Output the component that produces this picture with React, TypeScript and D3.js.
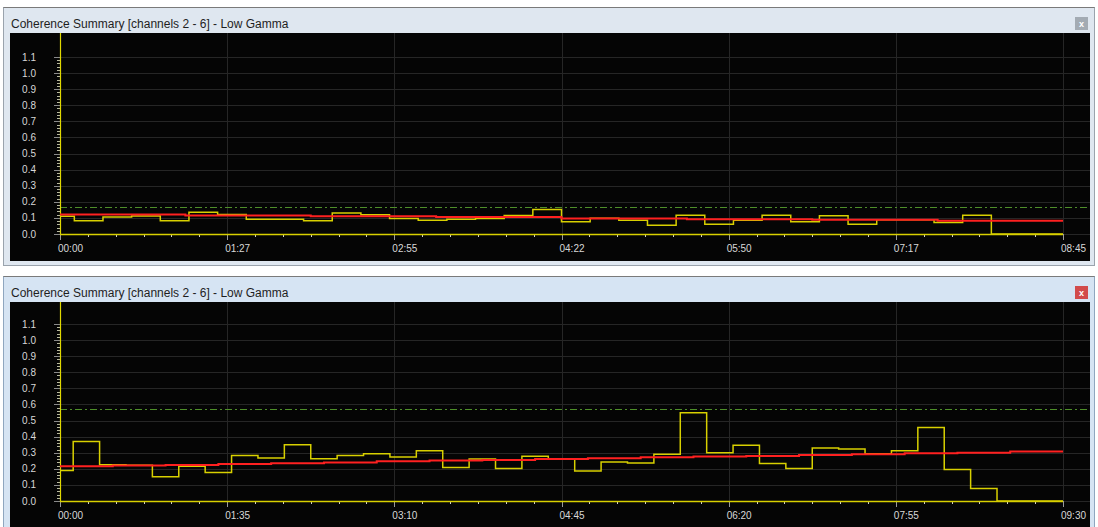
import React from "react";
import * as d3 from "d3";

// ---------- data ----------
const titleText = "Coherence Summary [channels 2 - 6] - Low Gamma";

const topDurationSec = 525;
const topTickLabels = ["00:00", "01:27", "02:55", "04:22", "05:50", "07:17", "08:45"];
const topYellow = [
  0.111, 0.082, 0.105, 0.112, 0.082, 0.135, 0.121, 0.092, 0.092, 0.082, 0.131, 0.119,
  0.096, 0.086, 0.092, 0.096, 0.115, 0.152, 0.076, 0.098, 0.086, 0.055, 0.117, 0.061,
  0.086, 0.117, 0.076, 0.113, 0.061, 0.088, 0.088, 0.072, 0.117, 0, 0, 0,
];
const topRed = [0.121, 0.115, 0.11, 0.105, 0.097, 0.092, 0.088, 0.083];
const topThreshold = 0.166;

const bottomDurationSec = 570;
const bottomTickLabels = ["00:00", "01:35", "03:10", "04:45", "06:20", "07:55", "09:30"];
const bottomYellow = [
  0.19, 0.37, 0.226, 0.222, 0.15, 0.216, 0.177, 0.282, 0.267, 0.35, 0.263, 0.282, 0.294,
  0.273, 0.313, 0.208, 0.261, 0.202, 0.278, 0.262, 0.187, 0.243, 0.236, 0.29, 0.548, 0.3,
  0.346, 0.233, 0.202, 0.33, 0.323, 0.294, 0.313, 0.457, 0.196, 0.078, 0, 0, 0,
];
const bottomRed = [
  0.216, 0.22, 0.224, 0.23, 0.235, 0.24, 0.247, 0.251, 0.255, 0.261, 0.265, 0.272, 0.276,
  0.28, 0.286, 0.29, 0.296, 0.3, 0.307,
];
const bottomThreshold = 0.57;

const sampleStepSec = 15;
const yTickValues = [0, 0.1, 0.2, 0.3, 0.4, 0.5, 0.6, 0.7, 0.8, 0.9, 1.0, 1.1];

// ---------- component ----------
type PanelProps = {
  wy: number;
  winH: number;
  plotBottom: number;
  duration: number;
  tickLabels: string[];
  yellow: number[];
  red: number[];
  threshold: number;
  active: boolean;
};

const FONT = "'Liberation Sans', Arial, sans-serif";

function Panel(p: PanelProps) {
  const left = 60;
  const right = 1063;
  const blackX0 = 10;
  const blackX1 = 1090;
  const blackTop = p.wy + 26;
  const blackBottom = p.plotBottom;
  const y0 = p.wy + (p.active ? 225 : 227);
  const x = d3.scaleLinear().domain([0, p.duration]).range([left, right]);
  const y = d3.scaleLinear().domain([0, 1.1]).range([y0, y0 - 177]);

  const yellowPts: [number, number][] = p.yellow.map((v, i) => [x(i * sampleStepSec), y(v)]);
  const segSec = p.duration / p.red.length;
  const redPts: [number, number][] = p.red.map((v, i) => [x(i * segSec), y(v)]);
  redPts.push([x(p.duration), y(p.red[p.red.length - 1])]);

  const yLine = d3.line().curve(d3.curveStep);
  const rLine = d3.line().curve(d3.curveStepAfter);

  const majorTicks = p.tickLabels.map((lab, i) => ({ lab, v: (i * p.duration) / (p.tickLabels.length - 1) }));
  const minorTicks = d3.range(0, 37).map((i) => (i * p.duration) / 36).filter((_, i) => i % 6 !== 0);
  const yMinor = d3.range(0, 56).map((i) => i * 0.02).filter((_, i) => i % 5 !== 0);

  const frameFill = p.active ? "#d6e4f3" : "#dfe7f0";
  const frameStroke = p.active ? "#8fa6bf" : "#9aa3ad";

  return (
    <g>
      <rect x={3.5} y={p.wy + 0.5} width={1091} height={p.winH} fill={frameFill} stroke={frameStroke} />
      <line x1={3.5} x2={1094.5} y1={p.wy + 0.5} y2={p.wy + 0.5} stroke="#7a7a7a" />
      <text x={11} y={p.wy + 21} fontFamily={FONT} fontSize={12} fill="#1e1e1e">
        {titleText}
      </text>
      <rect x={1075} y={p.wy + 10} width={13} height={13} fill={p.active ? "#d24b4b" : "#a3abb3"} />
      <text x={1081.5} y={p.wy + 19.5} textAnchor="middle" fontFamily={FONT} fontSize={9} fontWeight="bold" fill="#fff">
        x
      </text>
      <rect x={blackX0} y={blackTop} width={blackX1 - blackX0} height={blackBottom - blackTop} fill="#050505" />

      {/* grid */}
      {yTickValues.map((v) => (
        <line key={"gh" + v} x1={left} x2={blackX1} y1={Math.round(y(v)) + 0.5} y2={Math.round(y(v)) + 0.5} stroke="#262626" />
      ))}
      {majorTicks.map((t) => (
        <line key={"gv" + t.v} x1={Math.round(x(t.v)) + 0.5} x2={Math.round(x(t.v)) + 0.5} y1={blackTop} y2={y0} stroke="#262626" />
      ))}

      {/* threshold */}
      <line
        x1={left}
        x2={blackX1}
        y1={Math.round(y(p.threshold)) + 0.5}
        y2={Math.round(y(p.threshold)) + 0.5}
        stroke="#4f8f2a"
        strokeDasharray="7,3,2,3"
      />

      {/* y axis */}
      {yTickValues.map((v) => (
        <g key={"yt" + v}>
          <line x1={54} x2={left} y1={Math.round(y(v)) + 0.5} y2={Math.round(y(v)) + 0.5} stroke="#8a8a8a" />
          <text x={36} y={y(v) + 3.5} textAnchor="end" fontFamily={FONT} fontSize={10} fill="#d8d8d8">
            {v.toFixed(1)}
          </text>
        </g>
      ))}
      {yMinor.map((v) => (
        <line key={"ym" + v} x1={57} x2={left} y1={Math.round(y(v)) + 0.5} y2={Math.round(y(v)) + 0.5} stroke="#b8b8a0" />
      ))}
      <line x1={left + 0.5} x2={left + 0.5} y1={blackTop} y2={y0 + 1} stroke="#e0d800" strokeWidth={1.2} />

      {/* x axis */}
      {majorTicks.map((t) => (
        <g key={"xt" + t.v}>
          <line x1={Math.round(x(t.v)) + 0.5} x2={Math.round(x(t.v)) + 0.5} y1={y0} y2={y0 + 6} stroke="#9a9a9a" />
          <text x={x(t.v) - 2} y={y0 + 18} fontFamily={FONT} fontSize={10} fill="#d8d8d8">
            {t.lab}
          </text>
        </g>
      ))}
      {minorTicks.map((v) => (
        <line key={"xm" + v} x1={Math.round(x(v)) + 0.5} x2={Math.round(x(v)) + 0.5} y1={y0} y2={y0 + 3} stroke="#d0d0d0" />
      ))}
      <line x1={left} x2={right} y1={y0 + 0.5} y2={y0 + 0.5} stroke="#d8d000" strokeWidth={1.5} />

      {/* series */}
      <path d={yLine(yellowPts) || ""} fill="none" stroke="#d8d000" strokeWidth={1.5} />
      <path d={rLine(redPts) || ""} fill="none" stroke="#ff2020" strokeWidth={2} />
    </g>
  );
}

export default function App() {
  return (
    <svg
      width={1098}
      height={527}
      style={{ position: "absolute", left: 0, top: 0, background: "#ffffff" }}
    >
      <Panel
        wy={7}
        winH={258}
        plotBottom={261}
        duration={topDurationSec}
        tickLabels={topTickLabels}
        yellow={topYellow}
        red={topRed}
        threshold={topThreshold}
        active={false}
      />
      <Panel
        wy={276}
        winH={260}
        plotBottom={527}
        duration={bottomDurationSec}
        tickLabels={bottomTickLabels}
        yellow={bottomYellow}
        red={bottomRed}
        threshold={bottomThreshold}
        active={true}
      />
    </svg>
  );
}
